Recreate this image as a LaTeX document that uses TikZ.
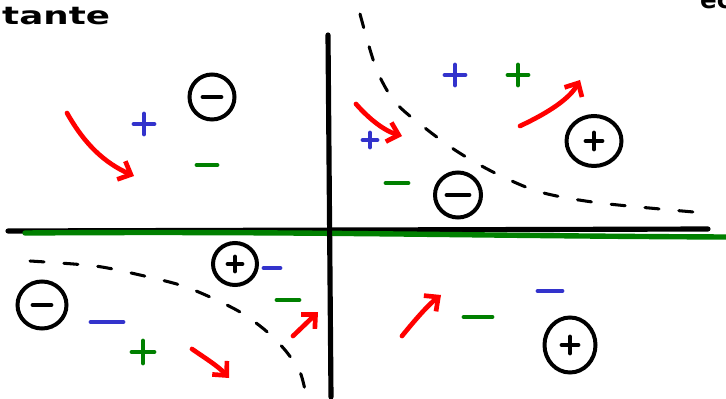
\documentclass[tikz,border=0pt]{standalone}
\usepackage{fontspec}
\usepackage{graphicx}
\setmainfont{DejaVu Sans}
\usetikzlibrary{arrows.meta}
\usetikzlibrary{shapes.geometric}

\definecolor{penblue}{RGB}{51,51,204}
\definecolor{pengreen}{RGB}{0,128,0}
\definecolor{penred}{RGB}{255,0,0}

\tikzset{
  pen/.style={line width=4.2pt, line cap=round, line join=round},
  axis/.style={pen, line width=4.4pt, black},
  greenline/.style={pen, line width=4.6pt, pengreen},
  hyp/.style={line width=2.6pt, black, dash pattern=on 12pt off 17pt, line cap=round},
  ring/.style={ellipse, draw, line width=3.4pt, inner sep=0pt},
  flow/.style={pen, line width=4pt, penred, -{Straight Barb[length=9pt,width=17pt,line width=4pt]}},
  scrawl/.style={font=\fontsize{21}{21}\selectfont\bfseries},
}

% hand-drawn signs
\newcommand{\chgplus}[3]{\draw[pen,#1,shift={(#2)}] (-#3,0) -- (#3,0) (0,-#3) -- (0,#3);}
\newcommand{\chgminus}[3]{\draw[pen,#1,shift={(#2)}] (-#3,0) -- (#3,0);}

\begin{document}
\begin{tikzpicture}[x=0.03cm,y=-0.03cm]
	\useasboundingbox (0,0) rectangle (726,399);
	
	% axes
	\draw[axis] (8,231) -- (708,229);
	\draw[greenline] (25,233) .. controls (300,231) and (480,236) .. (726,237);
	\draw[axis] (328,35) -- (331,397);
	
	% hyperbola branches
	\draw[hyp] plot[smooth] coordinates {(360,14) (376,68) (395,102) (425,128) (458,152) (495,173) (540,192) (600,203) (705,213)};
	\draw[hyp] plot[smooth] coordinates {(30,261) (95,266) (140,275) (180,285) (210,297) (240,312) (265,330) (285,350) (300,372) (306,395)};
	
	% circled charges
	\node[ring, minimum width=1.35cm, minimum height=1.35cm] (qTL) at (212,97) {};
	\node[ring, minimum width=1.38cm, minimum height=1.35cm] (qTRm) at (458,195) {};
	\node[ring, minimum width=1.65cm, minimum height=1.5cm] (qTRp) at (594,141) {};
	\node[ring, minimum width=1.47cm, minimum height=1.41cm] (qBLm) at (42,305) {};
	\node[ring, minimum width=1.32cm, minimum height=1.26cm] (qBLp) at (235,264) {};
	\node[ring, minimum width=1.53cm, minimum height=1.65cm] (qBRp) at (570,345) {};
	\chgminus{black}{qTL}{9}
	\chgminus{black}{qTRm}{11}
	\chgplus{black}{qTRp}{8}
	\chgminus{black}{qBLm}{9}
	\chgplus{black}{qBLp}{7}
	\chgplus{black}{qBRp}{8}
	
	% induced signs
	\chgplus{penblue}{144,124}{10}
	\chgminus{pengreen}{207,165}{10}
	\chgplus{penblue}{455,75}{10}
	\chgplus{pengreen}{518,75}{10}
	\chgplus{penblue}{370,140}{7}
	\chgminus{pengreen}{397,183}{11}
	\chgminus{penblue}{272,268}{8}
	\chgminus{penblue}{107,322}{16}
	\chgminus{pengreen}{288,300}{11}
	\chgplus{pengreen}{143,352}{11}
	\chgminus{pengreen}{478,317}{14}
	\chgminus{penblue}{550,291}{12}
	
	% flow arrows
	\draw[flow] (67,113) .. controls (85,145) and (105,163) .. (134,176);
	\draw[flow] (356,104) .. controls (370,120) and (385,131) .. (402,136);
	\draw[flow] (520,126) .. controls (550,112) and (570,98) .. (580,80);
	\draw[flow] (192,349) .. controls (205,358) and (218,366) .. (229,378);
	\draw[flow] (293,336) -- (318,312);
	\draw[flow] (402,336) .. controls (415,320) and (428,305) .. (441,295);
	
	% cut-off words
	\node[scrawl, anchor=base west, inner sep=0pt] (wleft) at (2,25) {\scalebox{1.45}[1]{tante}};
	\node[scrawl, anchor=base west, inner sep=0pt] (wright) at (700,9) {ec};
\end{tikzpicture}
\end{document}
